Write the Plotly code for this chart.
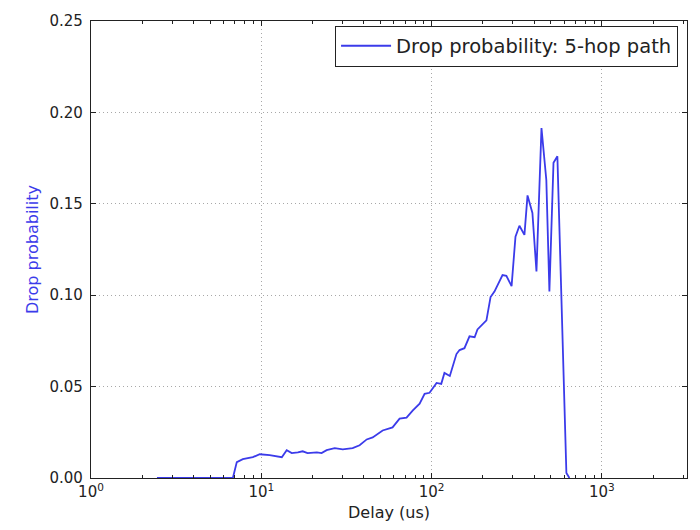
import plotly.graph_objects as go

# Delay in microseconds and the measured drop probability along a 5-hop path
delay_us = [
    2.44, 3.0, 4.0, 5.0, 6.0, 6.81, 7.18, 7.79, 8.92, 9.80,
    11.2, 13.2, 14.1, 15.1, 16.4, 17.5, 18.7, 21.2, 22.6, 24.2,
    27.0, 30.1, 34.4, 37.8, 41.6, 45.1, 51.6, 59.0, 64.9, 71.3,
    77.4, 85.1, 91.0, 97.3, 107, 114, 119, 128, 140, 146,
    156, 167, 179, 186, 210, 222, 234, 261, 275, 295,
    311, 328, 351, 366, 391, 413, 442, 472, 492, 520,
    548, 619, 645,
]
drop_prob = [
    0.0, 0.0, 0.0, 0.0, 0.0, 0.0, 0.0087, 0.0103, 0.0114, 0.0130,
    0.0125, 0.0114, 0.0152, 0.0136, 0.0140, 0.0146, 0.0136, 0.0140, 0.0136, 0.0152,
    0.0163, 0.0157, 0.0163, 0.0179, 0.0211, 0.0222, 0.0260, 0.0277, 0.0325, 0.0330,
    0.0369, 0.0407, 0.0460, 0.0466, 0.0520, 0.0515, 0.0575, 0.0558, 0.0678, 0.0700,
    0.0710, 0.0775, 0.0770, 0.0813, 0.0862, 0.0990, 0.1020, 0.1110, 0.1106, 0.1050,
    0.1320, 0.1380, 0.1330, 0.1546, 0.1450, 0.1130, 0.1914, 0.1630, 0.1020, 0.1725,
    0.1760, 0.0027, 0.0,
]

x_tick_vals = [1, 10, 100, 1000]
x_tick_text = ["10<sup>0</sup>", "10<sup>1</sup>", "10<sup>2</sup>", "10<sup>3</sup>"]
# log minor ticks: 2..9 within each decade shown
x_minor_vals = [m * d for d in (1, 10, 100, 1000) for m in range(2, 10) if m * d < 3162]

LINE_BLUE = "#3b3bea"
AXIS_DARK = "#222222"
GRID_GREY = "#a8a8a8"

fig = go.Figure()
fig.add_trace(go.Scatter(
    x=delay_us,
    y=drop_prob,
    mode="lines",
    name="Drop probability: 5-hop path",
    line=dict(color=LINE_BLUE, width=1.8),
))

fig.update_layout(
    width=700,
    height=530,
    margin=dict(l=91, r=13, t=17, b=52),
    paper_bgcolor="white",
    plot_bgcolor="white",
    font=dict(family="DejaVu Sans", size=15, color=AXIS_DARK),
    showlegend=True,
    legend=dict(
        x=0.985, y=0.99, xanchor="right", yanchor="top",
        bgcolor="white",
        bordercolor=AXIS_DARK, borderwidth=1,
        font=dict(family="DejaVu Sans", size=19.5, color=AXIS_DARK),
        itemwidth=50,
        tracegroupgap=0,
    ),
)

fig.update_xaxes(
    type="log",
    range=[0, 3.5],
    tickvals=x_tick_vals,
    ticktext=x_tick_text,
    ticks="inside",
    ticklen=5,
    tickcolor=AXIS_DARK,
    showline=True,
    linecolor=AXIS_DARK,
    linewidth=1.2,
    mirror="allticks",
    showgrid=True,
    gridcolor=GRID_GREY,
    griddash="1px,3px",
    gridwidth=1.2,
    zeroline=False,
    tickfont=dict(size=15),
    minor=dict(tickvals=x_minor_vals, ticks="inside", ticklen=3,
               tickcolor=AXIS_DARK, showgrid=False),
    title=dict(text="Delay (us)", font=dict(size=16, color=AXIS_DARK), standoff=6),
)

fig.update_yaxes(
    range=[0, 0.25],
    dtick=0.05,
    tickformat=".2f",
    ticks="inside",
    ticklen=5,
    tickcolor=AXIS_DARK,
    showline=True,
    linecolor=AXIS_DARK,
    linewidth=1.2,
    mirror="allticks",
    showgrid=True,
    gridcolor=GRID_GREY,
    griddash="1px,3px",
    gridwidth=1.2,
    zeroline=False,
    tickfont=dict(size=15),
    ticklabelstandoff=4,
    title=dict(text="Drop probability", font=dict(size=16, color=LINE_BLUE), standoff=6),
)

fig.write_html("out.html")
